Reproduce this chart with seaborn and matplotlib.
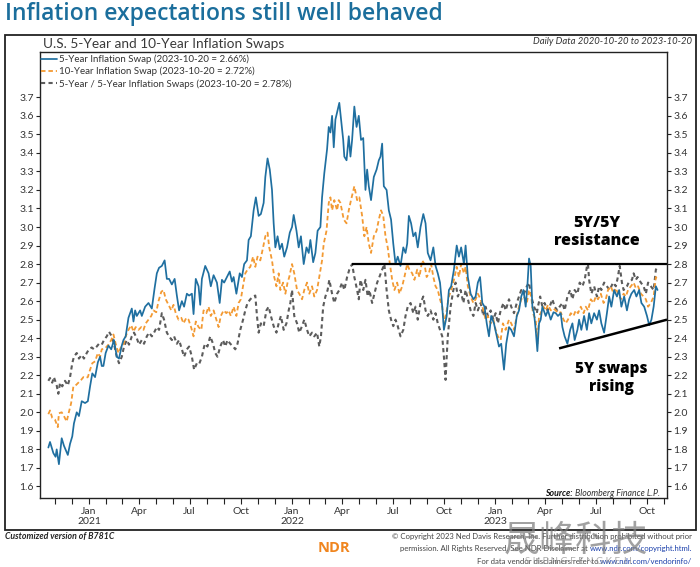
import numpy as np
import pandas as pd
import matplotlib
matplotlib.use("Agg")
import matplotlib.pyplot as plt
import matplotlib.dates as mdates
from matplotlib.lines import Line2D
from matplotlib.patches import Rectangle
from matplotlib.ticker import FuncFormatter, FixedLocator
import seaborn as sns

# ---------------- data (days since 2020-10-20, percent) ----------------
START_DATE = "2020-10-20"

swap5_days = [0, 3, 9, 13, 15, 19, 24, 28, 35, 39, 43, 46, 51, 55, 60, 66, 71, 75, 79, 84,
              89, 93, 96, 99, 103, 108, 113, 118, 123, 127, 132, 135, 139, 144, 150, 153, 156, 159, 165, 168,
              174, 180, 186, 191, 195, 199, 204, 209, 213, 217, 222, 227, 231, 235, 240, 244, 249, 253, 258, 261,
              265, 270, 273, 276, 281,
              282, 288, 292, 297, 303, 308, 312, 316, 321, 326, 330, 333, 338, 344, 348, 352, 357, 360, 364, 369,
              373, 378, 382, 387, 390, 394, 398, 402, 405, 408, 412, 416, 420, 424, 429, 434, 438, 441, 446, 450,
              454, 459, 464, 468, 471, 476, 480, 484, 489, 492, 496, 501, 504, 507, 510, 513, 516, 520, 523,
              530, 532, 536, 540, 543, 546, 550, 554, 558, 562, 566, 570, 573, 576, 580, 585, 590, 594, 597, 600,
              603, 608, 612, 616, 620, 624, 628, 633, 638, 642, 645, 648, 652, 656, 660, 664, 669, 674, 678, 682,
              687, 692, 696, 700, 704, 708, 711, 716, 720, 724, 729, 734, 738, 742, 747, 750, 754, 759, 764, 768,
              772, 776, 780, 784, 788, 792, 796, 801, 806, 810, 814, 819, 823,
              828, 832, 837, 842, 846, 850, 854, 858, 861, 864, 867, 870, 873, 876, 879, 882, 885, 888, 894, 898,
              903, 908, 912, 916, 921, 924, 928, 933, 938, 942, 946, 951, 954, 958, 963, 968, 972, 976, 981, 986,
              990, 994, 999, 1004, 1008, 1012, 1017, 1022, 1026, 1030, 1035, 1040, 1044, 1048, 1053, 1057, 1062, 1066, 1071, 1076,
              1080, 1084, 1088, 1092, 1095]
swap5_vals = [1.81, 1.84, 1.78, 1.76, 1.80, 1.72, 1.86, 1.82, 1.77, 1.83, 1.87, 1.94, 2.00, 1.98, 2.06, 2.05, 2.06, 2.14, 2.21, 2.19,
              2.27, 2.30, 2.25, 2.25, 2.32, 2.36, 2.34, 2.39, 2.30, 2.29, 2.36, 2.39, 2.41, 2.51, 2.56, 2.49, 2.55, 2.52, 2.55, 2.52,
              2.57, 2.59, 2.56, 2.67, 2.75, 2.78, 2.79, 2.82, 2.72, 2.72, 2.69, 2.72, 2.63, 2.55, 2.60, 2.57, 2.64, 2.63, 2.64, 2.53,
              2.72, 2.68, 2.58, 2.72, 2.78,
              2.79, 2.75, 2.68, 2.74, 2.70, 2.59, 2.715, 2.70, 2.73, 2.76, 2.705, 2.73, 2.64, 2.75, 2.73, 2.80, 2.82, 2.93, 2.95, 3.09,
              3.16, 3.06, 3.07, 3.13, 3.27, 3.37, 3.31, 3.20, 3.02, 2.89, 2.95, 2.88, 2.91, 2.84, 2.89, 2.97, 3.00, 3.065, 2.98, 2.89,
              2.95, 2.80, 2.89, 2.86, 2.93, 2.81, 2.86, 2.98, 3.00, 3.16, 3.29, 3.42, 3.54, 3.51, 3.60, 3.43, 3.58, 3.63, 3.67,
              3.47, 3.38, 3.36, 3.49, 3.38, 3.47, 3.65, 3.54, 3.60, 3.47, 3.48, 3.20, 3.31, 3.22, 3.145, 3.27, 3.31, 3.36, 3.38, 3.45,
              3.22, 3.20, 3.09, 3.04, 2.91, 2.80, 2.84, 2.79, 2.89, 2.86, 2.91, 3.06, 3.02, 2.95, 2.97, 2.89, 3.00, 3.07, 3.02, 2.86,
              2.82, 2.89, 2.79, 2.75, 2.70, 2.57, 2.445, 2.52, 2.66, 2.68, 2.77, 2.90, 2.84, 2.89, 2.80, 2.90, 2.73, 2.64, 2.61, 2.625,
              2.70, 2.73, 2.59, 2.57, 2.48, 2.41, 2.52, 2.48, 2.41, 2.355, 2.37, 2.23, 2.37,
              2.46, 2.445, 2.41, 2.52, 2.55, 2.625, 2.66, 2.57, 2.68, 2.83, 2.79, 2.57, 2.535, 2.445, 2.33, 2.48, 2.50, 2.57, 2.52, 2.55,
              2.50, 2.54, 2.535, 2.52, 2.535, 2.46, 2.41, 2.37, 2.445, 2.48, 2.39, 2.445, 2.50, 2.445, 2.52, 2.445, 2.535, 2.48, 2.535, 2.50,
              2.55, 2.48, 2.43, 2.535, 2.625, 2.57, 2.66, 2.625, 2.66, 2.57, 2.625, 2.55, 2.61, 2.64, 2.66, 2.625, 2.66, 2.59, 2.57, 2.52,
              2.47, 2.50, 2.57, 2.68, 2.66]

swap10_days = [0, 3, 7, 12, 17, 19, 24, 28, 33, 36, 41, 45, 49, 54, 59, 63, 67, 71, 75, 79,
               84, 89, 93, 96, 102, 108, 113, 117, 121, 126, 131, 135, 139, 144, 149, 153, 157, 162, 167, 171,
               175, 180, 185, 189, 194, 198, 203, 207, 211, 216, 221, 225, 229, 234, 239, 243, 248, 252, 257, 261,
               265, 270, 275, 279,
               284, 288, 292, 297, 302, 306, 310, 315, 320, 324, 328, 333, 338, 342, 346, 351, 354, 358, 363, 368,
               372, 376, 381, 386, 390, 394, 397, 402, 406, 410, 414, 417, 422, 426, 430, 433, 438, 442, 447, 451,
               456, 460, 465, 469, 474, 478, 483, 487, 492, 495, 500, 504, 507, 510, 514, 519, 522, 525,
               531, 536, 540, 544, 550, 555, 559, 564, 568, 572, 576, 580, 585, 590, 594, 598, 602, 606, 610, 613,
               618, 622, 627, 631, 636, 640, 645, 649, 654, 658, 663, 667, 672, 676, 680, 684, 688, 692, 696, 700,
               704, 708, 711, 716, 720, 724, 729, 734, 738, 742, 747, 750, 754, 759, 764, 768, 772, 777, 782, 786,
               790, 795, 800, 804, 808, 813, 817, 822,
               828, 832, 837, 842, 846, 850, 855, 860, 864, 868, 871, 876, 879, 882, 885, 890, 894, 898, 903, 908,
               912, 916, 921, 926, 930, 934, 939, 944, 948, 952, 957, 962, 966, 970, 975, 980, 984, 988, 993, 998,
               1002, 1006, 1011, 1016, 1020, 1024, 1029, 1034, 1038, 1042, 1047, 1052, 1056, 1060, 1065, 1070, 1074, 1078, 1083, 1088,
               1092, 1095]
swap10_vals = [1.99, 2.01, 1.97, 1.96, 1.92, 1.995, 2.00, 1.98, 1.95, 1.99, 2.05, 2.14, 2.145, 2.16, 2.175, 2.19, 2.185, 2.19, 2.23, 2.265,
               2.275, 2.32, 2.30, 2.34, 2.345, 2.365, 2.39, 2.42, 2.37, 2.32, 2.355, 2.365, 2.41, 2.445, 2.47, 2.435, 2.46, 2.445, 2.46, 2.445,
               2.48, 2.50, 2.52, 2.55, 2.54, 2.60, 2.65, 2.66, 2.61, 2.58, 2.55, 2.58, 2.535, 2.50, 2.51, 2.48, 2.51, 2.50, 2.455, 2.41,
               2.49, 2.46, 2.445, 2.55,
               2.535, 2.57, 2.52, 2.55, 2.50, 2.46, 2.52, 2.55, 2.535, 2.55, 2.52, 2.57, 2.52, 2.59, 2.61, 2.70, 2.75, 2.77, 2.785, 2.84,
               2.785, 2.84, 2.82, 2.89, 2.95, 2.97, 2.89, 2.82, 2.73, 2.68, 2.75, 2.66, 2.70, 2.64, 2.70, 2.73, 2.80, 2.75, 2.66, 2.64,
               2.61, 2.66, 2.70, 2.64, 2.68, 2.625, 2.66, 2.73, 2.82, 2.91, 2.98, 3.13, 3.16, 3.09, 3.145, 3.09, 3.145, 3.13,
               3.04, 3.02, 3.09, 3.145, 3.22, 3.145, 3.16, 3.06, 2.95, 3.00, 2.91, 2.86, 2.95, 2.98, 3.04, 3.09, 3.06, 2.95, 2.89, 2.82,
               2.715, 2.66, 2.70, 2.64, 2.68, 2.73, 2.80, 2.77, 2.75, 2.715, 2.77, 2.73, 2.82, 2.80, 2.73, 2.75, 2.80, 2.73, 2.68, 2.66,
               2.61, 2.57, 2.48, 2.55, 2.625, 2.66, 2.715, 2.785, 2.73, 2.80, 2.75, 2.785, 2.68, 2.625, 2.59, 2.61, 2.64, 2.61, 2.55, 2.50,
               2.52, 2.48, 2.50, 2.445, 2.41, 2.39, 2.48, 2.445,
               2.50, 2.48, 2.445, 2.52, 2.57, 2.61, 2.625, 2.59, 2.66, 2.625, 2.535, 2.50, 2.37, 2.52, 2.535, 2.57, 2.55, 2.58, 2.55, 2.56,
               2.55, 2.535, 2.54, 2.50, 2.48, 2.50, 2.535, 2.52, 2.55, 2.535, 2.57, 2.535, 2.57, 2.55, 2.61, 2.59, 2.625, 2.61, 2.64, 2.59,
               2.61, 2.66, 2.68, 2.64, 2.67, 2.64, 2.61, 2.64, 2.625, 2.66, 2.68, 2.70, 2.67, 2.68, 2.64, 2.625, 2.61, 2.57, 2.59, 2.625,
               2.73, 2.72]

fwd55_days = [0, 3, 7, 10, 15, 18, 21, 25, 30, 35, 39, 43, 46, 51, 55, 60, 64, 69, 73, 78,
              82, 87, 91, 96, 100, 105, 109, 114, 118, 123, 127, 132, 136, 141, 145, 150, 154, 159, 163, 168,
              172, 177, 181, 186, 190, 195, 199, 204, 208, 213, 217, 222, 226, 231, 235, 240, 244, 249, 253, 258,
              262, 267, 271, 276, 280,
              282, 286, 291, 296, 300, 304, 309, 314, 318, 322, 327, 332, 336, 340, 345, 350, 354, 358, 363, 368,
              372, 375, 378, 382, 387, 392, 396, 400, 405, 410, 414, 418, 423, 428, 432, 435, 438, 442, 447, 451,
              456, 460, 465, 469, 474, 478, 483, 487, 490, 494, 498, 502, 505, 510, 514, 519, 523,
              528, 532, 537, 541, 546, 550, 555, 558, 561, 566, 570, 574, 577, 582, 586, 591, 595, 600, 604, 608,
              612, 616, 620, 624, 628, 633, 638, 642, 646, 651, 656, 660, 664, 669, 674, 678, 682, 687, 692, 696,
              700, 704, 708, 711, 714, 716, 718, 723, 728, 732, 736, 741, 746, 750, 754, 759, 764, 768, 772, 777,
              782, 786, 790, 795, 800, 804, 808, 813, 818, 822,
              828, 832, 837, 842, 846, 850, 855, 860, 864, 868, 873, 878, 880, 884, 888, 892, 897, 901, 906, 910,
              915, 919, 924, 928, 933, 938, 942, 946, 951, 955, 960, 964, 968, 970, 972, 976, 981, 986, 990, 994,
              999, 1004, 1009, 1015, 1020, 1023, 1027, 1031, 1034, 1040, 1043, 1049, 1052, 1056, 1059, 1065, 1070, 1074, 1078, 1083,
              1088, 1092, 1095]
fwd55_vals = [2.17, 2.185, 2.16, 2.19, 2.145, 2.10, 2.16, 2.14, 2.17, 2.145, 2.19, 2.265, 2.30, 2.32, 2.29, 2.31, 2.29, 2.32, 2.34, 2.35,
              2.34, 2.355, 2.37, 2.365, 2.39, 2.41, 2.435, 2.41, 2.37, 2.30, 2.265, 2.30, 2.355, 2.39, 2.365, 2.41, 2.43, 2.40, 2.365, 2.39,
              2.37, 2.41, 2.43, 2.41, 2.43, 2.46, 2.445, 2.535, 2.50, 2.43, 2.41, 2.39, 2.41, 2.37, 2.39, 2.34, 2.30, 2.34, 2.355, 2.30,
              2.23, 2.265, 2.26, 2.30, 2.355,
              2.37, 2.355, 2.41, 2.37, 2.32, 2.30, 2.355, 2.39, 2.355, 2.39, 2.37, 2.355, 2.34, 2.37, 2.445, 2.50, 2.55, 2.59, 2.61, 2.625,
              2.63, 2.52, 2.43, 2.48, 2.465, 2.55, 2.57, 2.52, 2.465, 2.43, 2.48, 2.52, 2.445, 2.48, 2.55, 2.59, 2.66, 2.52, 2.48, 2.43,
              2.465, 2.50, 2.445, 2.41, 2.43, 2.41, 2.43, 2.355, 2.41, 2.57, 2.625, 2.66, 2.715, 2.64, 2.59, 2.64, 2.66,
              2.70, 2.66, 2.73, 2.77, 2.80, 2.73, 2.66, 2.61, 2.715, 2.66, 2.715, 2.625, 2.66, 2.59, 2.64, 2.70, 2.73, 2.77, 2.80, 2.66,
              2.55, 2.50, 2.465, 2.50, 2.465, 2.41, 2.445, 2.52, 2.57, 2.59, 2.535, 2.57, 2.50, 2.59, 2.625, 2.55, 2.52, 2.55, 2.50, 2.535,
              2.48, 2.445, 2.41, 2.30, 2.175, 2.30, 2.41, 2.57, 2.66, 2.70, 2.625, 2.66, 2.59, 2.66, 2.61, 2.55, 2.52, 2.59, 2.55, 2.59,
              2.52, 2.57, 2.52, 2.55, 2.50, 2.535, 2.48, 2.55, 2.59, 2.55,
              2.61, 2.57, 2.535, 2.59, 2.625, 2.66, 2.64, 2.68, 2.70, 2.625, 2.57, 2.535, 2.57, 2.625, 2.57, 2.59, 2.55, 2.57, 2.61, 2.57,
              2.55, 2.57, 2.59, 2.55, 2.625, 2.66, 2.61, 2.66, 2.64, 2.70, 2.68, 2.715, 2.785, 2.80, 2.715, 2.64, 2.68, 2.625, 2.68, 2.66,
              2.70, 2.68, 2.66, 2.70, 2.68, 2.72, 2.79, 2.70, 2.66, 2.68, 2.70, 2.715, 2.75, 2.715, 2.73, 2.70, 2.68, 2.64, 2.70, 2.68,
              2.66, 2.77, 2.785]

series_names = ["5-Year Inflation Swap (2023-10-20 = 2.66%)",
                "10-Year Inflation Swap (2023-10-20 = 2.72%)",
                "5-Year / 5-Year Inflation Swaps (2023-10-20 = 2.78%)"]
y_ticks = [1.6, 1.7, 1.8, 1.9, 2.0, 2.1, 2.2, 2.3, 2.4, 2.5, 2.6, 2.7, 2.8, 2.9, 3.0, 3.1, 3.2, 3.3, 3.4, 3.5, 3.6, 3.7]

resistance_level = 2.8
resistance_start = "2022-04-19"
trend_start_date, trend_start_val = "2023-04-26", 2.345
trend_end_date, trend_end_val = "2023-11-06", 2.50
x_min, x_max = "2020-10-05", "2023-11-06"
y_min, y_max = 1.536, 3.946

# ---------------- styling ----------------
BLUE = "#1f6fa0"
ORANGE = "#f39a33"
GRAY = "#5c5c5c"
TITLE_BLUE = "#1b6e9c"
TXT = "#333333"

sns.set_theme(style="white")
plt.rcParams['font.family'] = ['Lato', 'DejaVu Sans']

W, H = 700, 567
fig = plt.figure(figsize=(W / 100, H / 100), dpi=100)


def fx(x):
    return x / W


def fy(y):
    return 1 - y / H


ax = fig.add_axes([fx(40), fy(498.3), (667 - 40) / W, (498.3 - 51.7) / H])

start = pd.Timestamp(START_DATE)


def make_df(days, vals, name):
    return pd.DataFrame({"date": start + pd.to_timedelta(days, unit="D"),
                         "value": vals, "series": name})


df5 = make_df(swap5_days, swap5_vals, series_names[0])
df10 = make_df(swap10_days, swap10_vals, series_names[1])
df55 = make_df(fwd55_days, fwd55_vals, series_names[2])

sns.lineplot(data=df55, x="date", y="value", ax=ax, color=GRAY, lw=1.5,
             linestyle=(0, (2.0, 1.6)), estimator=None, legend=False)
sns.lineplot(data=df10, x="date", y="value", ax=ax, color=ORANGE, lw=1.3,
             linestyle=(0, (2.5, 1.6)), estimator=None, legend=False)
sns.lineplot(data=df5, x="date", y="value", ax=ax, color=BLUE, lw=1.25,
             estimator=None, legend=False)

# annotation lines
ax.plot([pd.Timestamp(resistance_start), pd.Timestamp(x_max)],
        [resistance_level, resistance_level], color="black", lw=1.6, solid_capstyle="butt")
ax.plot([pd.Timestamp(trend_start_date), pd.Timestamp(trend_end_date)],
        [trend_start_val, trend_end_val], color="black", lw=1.8, solid_capstyle="butt")

ax.set_xlim(pd.Timestamp(x_min), pd.Timestamp(x_max))
ax.set_ylim(y_min, y_max)
ax.set_xlabel("")
ax.set_ylabel("")

ax.yaxis.set_major_locator(FixedLocator(y_ticks))
ax.yaxis.set_major_formatter(FuncFormatter(lambda v, p: f"{v:.1f}"))
ax.xaxis.set_major_locator(mdates.MonthLocator(bymonth=[1, 4, 7, 10]))
ax.xaxis.set_minor_locator(mdates.MonthLocator())


def xfmt(v, pos):
    d = mdates.num2date(v)
    s = d.strftime("%b")
    if d.month == 1:
        s += "\n" + str(d.year)
    return s


ax.xaxis.set_major_formatter(FuncFormatter(xfmt))

for sp in ax.spines.values():
    sp.set_visible(True)
    sp.set_color("#222222")
    sp.set_linewidth(1.0)

ax.tick_params(axis="x", which="both", bottom=True, direction="out", length=4,
               width=0.8, color="#222222", labelsize=7.5, labelcolor=TXT, pad=2)
ax.tick_params(axis="y", which="both", left=True, right=True, labelleft=True,
               labelright=True, direction="out", length=3, width=0.8,
               color="#222222", labelsize=7.5, labelcolor=TXT, pad=1.5)

# legend
handles = [Line2D([], [], color=BLUE, lw=1.25),
           Line2D([], [], color=ORANGE, lw=1.3, linestyle=(0, (2.5, 1.6))),
           Line2D([], [], color=GRAY, lw=1.5, linestyle=(0, (2.0, 1.6)))]
fig.legend(handles, series_names, loc="upper left",
           bbox_to_anchor=(fx(41), fy(54.5)), bbox_transform=fig.transFigure,
           frameon=False, fontsize=7.0, handlelength=1.6, handletextpad=0.25,
           labelspacing=0.28, borderpad=0, borderaxespad=0, labelcolor=TXT)

# annotations
fig.text(fx(597), fy(232), "5Y/5Y\nresistance", ha="center", va="center",
         fontsize=11.5, fontweight="heavy", family=["Open Sans", "DejaVu Sans"],
         color="black", linespacing=1.2)
fig.text(fx(611), fy(378), "5Y swaps\nrising", ha="center", va="center",
         fontsize=11, fontweight="heavy", family=["Open Sans", "DejaVu Sans"],
         color="black", linespacing=1.2)

# titles
fig.text(fx(5), fy(14), "Inflation expectations still well behaved", ha="left",
         va="center", fontsize=16.5, color=TITLE_BLUE, fontweight="semibold",
         family=["Open Sans", "DejaVu Sans"])
fig.text(fx(43), fy(44), "U.S. 5-Year and 10-Year Inflation Swaps", ha="left",
         va="center", fontsize=9.8, color="#3a3a3a")
fig.text(fx(692), fy(42), "Daily Data 2020-10-20 to 2023-10-20", ha="right",
         va="center", fontsize=6.8, style="italic", color=TXT)

# source
fig.text(fx(660), fy(493), "Bloomberg Finance L.P.", ha="right", va="center",
         fontsize=6.3, style="italic", color=TXT)
fig.text(fx(573), fy(493), "Source:", ha="right", va="center",
         fontsize=6.3, style="italic", fontweight="bold", color="#111111")
fig.add_artist(Line2D([fx(543), fx(573)], [fy(497.5), fy(497.5)], color="#111111",
                      lw=0.6, transform=fig.transFigure))

# outer frame
fig.add_artist(Rectangle((fx(5), fy(530)), (696 - 5) / W, (530 - 35) / H,
                         transform=fig.transFigure, fill=False, lw=1.3,
                         ec="#222222"))

# footer
fig.text(fx(5), fy(536), "Customized version of B781C", ha="left", va="center",
         fontsize=6.3, style="italic", fontweight="bold", color="#222222")
fig.text(fx(318), fy(548), "NDR", ha="left", va="center", fontsize=10.5,
         fontweight="bold", color="#f0851e", family=["Open Sans", "DejaVu Sans"])

fig.canvas.draw()
renderer = fig.canvas.get_renderer()


def right_pair(y, plain, link):
    t_link = fig.text(fx(692), fy(y), link, ha="right", va="center",
                      fontsize=5.6, color="#1a3faa")
    bb = t_link.get_window_extent(renderer)
    fig.text(bb.x0 / W - 0.002, fy(y), plain, ha="right", va="center",
             fontsize=5.6, color="#444444")


fig.text(fx(692), fy(536),
         "\u00a9 Copyright 2023 Ned Davis Research, Inc. Further distribution prohibited without prior",
         ha="right", va="center", fontsize=5.6, color="#444444")
right_pair(549, "permission. All Rights Reserved. See NDR Disclaimer at", "www.ndr.com/copyright.html.")
right_pair(561, "For data vendor disclaimers refer to", "www.ndr.com/vendorinfo/")

# watermark (semi-transparent overlay as in the reference)
fig.text(fx(576), fy(541), "晟峰科技", ha="center", va="center", fontsize=26,
         color="#7a7a7a", alpha=0.7, family=["Noto Sans CJK SC"])
fig.text(fx(578), fy(562), "S H E N G F E N G K E J I", ha="center", va="center",
         fontsize=7, color="#8a8a8a", alpha=0.7)

fig.savefig("out.png", dpi=100)
